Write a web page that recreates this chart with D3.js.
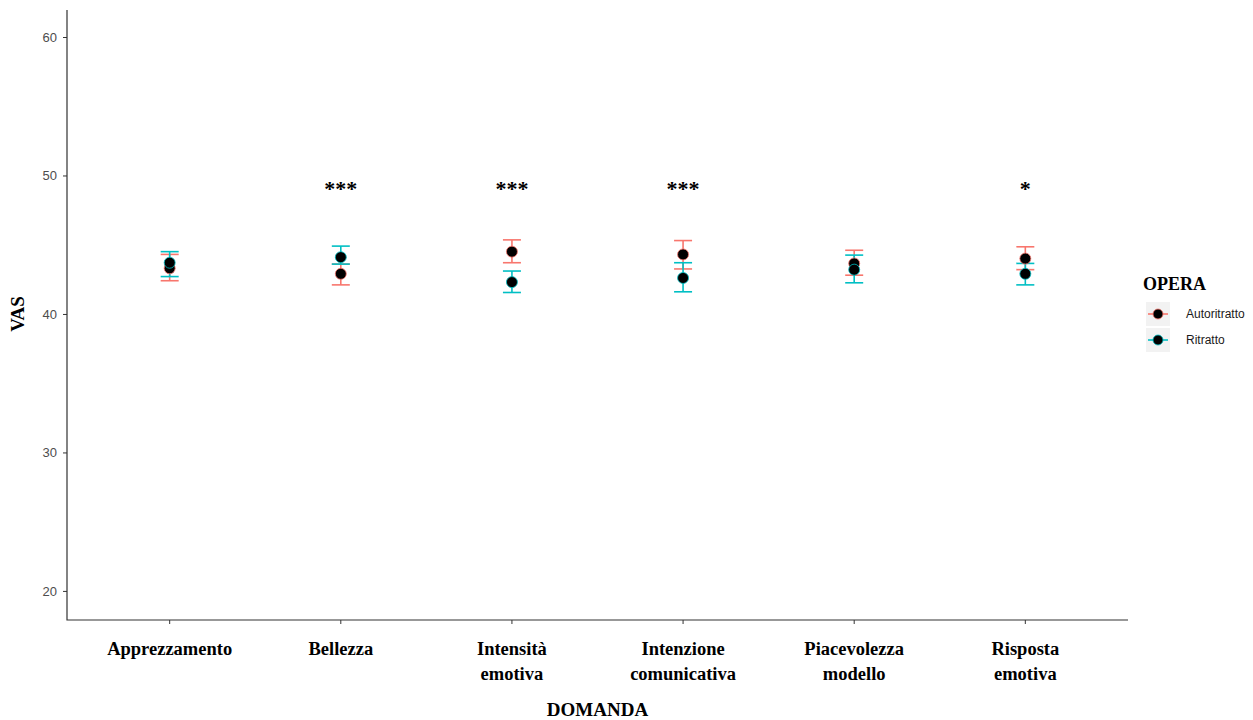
<!DOCTYPE html>
<html>
<head>
  <meta charset="utf-8">
  <script src="https://d3js.org/d3.v7.min.js"></script>
  <style>
    body { margin: 0; background: #fff; }
    .tick text { font-family: "Liberation Sans", Arial, sans-serif; fill: #4d4d4d; }
    .serif { font-family: "Liberation Serif", "Times New Roman", serif; font-weight: bold; }
  </style>
</head>
<body>
<script>
  // data
  var categories = ["Apprezzamento", "Bellezza", "Intensità emotiva", "Intenzione comunicativa", "Piacevolezza modello", "Risposta emotiva"];
  var catLines = [["Apprezzamento"], ["Bellezza"], ["Intensità", "emotiva"], ["Intenzione", "comunicativa"], ["Piacevolezza", "modello"], ["Risposta", "emotiva"]];
  var series = ["Autoritratto", "Ritratto"];
  var autoMean = [43.3, 42.9, 44.5, 44.3, 43.65, 44.0];
  var autoLow  = [42.4, 42.1, 43.7, 43.25, 42.8, 43.2];
  var autoHigh = [44.3, 43.6, 45.35, 45.3, 44.6, 44.85];
  var ritMean  = [43.7, 44.1, 42.3, 42.6, 43.2, 42.9];
  var ritLow   = [42.7, 43.6, 41.55, 41.6, 42.25, 42.1];
  var ritHigh  = [44.5, 44.9, 43.1, 43.7, 44.25, 43.65];
  var stars    = ["", "***", "***", "***", "", "*"];
  var starY    = 49.2;
  var yTicks   = [20, 30, 40, 50, 60];
  var colors   = ["#F8766D", "#00BFC4"];

  (function() {
  var W = 1253, H = 720;
  var pL = 67, pR = 1128, pT = 10, pB = 620;

  var svg = d3.select("body").append("svg").attr("width", W).attr("height", H);

  var y = d3.scaleLinear().domain([17.9, 61.95]).range([pB, pT]);
  // ggplot-like discrete expansion of 0.6
  var xi = d3.scaleLinear().domain([0.4, categories.length + 0.6]).range([pL, pR]);
  var x = function(i) { return xi(i + 1); };

  // axes
  var yAxis = d3.axisLeft(y).tickValues(yTicks).tickSize(4).tickPadding(6);
  var gy = svg.append("g").attr("transform", "translate(" + pL + ",0)").call(yAxis);
  gy.select(".domain").remove();
  gy.selectAll(".tick line").attr("stroke", "#333");
  gy.selectAll(".tick text").attr("font-size", 13);

  var gx = svg.append("g").attr("transform", "translate(0," + pB + ")");
  gx.selectAll("line.tk").data(categories).enter().append("line")
    .attr("x1", function(d, i) { return x(i); }).attr("x2", function(d, i) { return x(i); })
    .attr("y1", 0).attr("y2", 4).attr("stroke", "#333");
  gx.selectAll("text.lab").data(catLines).enter().append("text")
    .attr("class", "serif")
    .attr("text-anchor", "middle")
    .attr("font-size", 18.5)
    .attr("x", function(d, i) { return x(i); })
    .attr("y", 35)
    .each(function(lines) {
      var t = d3.select(this);
      lines.forEach(function(l, k) {
        t.append("tspan").attr("x", t.attr("x")).attr("dy", k === 0 ? 0 : 25).text(l);
      });
    });

  svg.append("path")
    .attr("d", "M" + pL + "," + pT + "V" + pB + "H" + pR)
    .attr("fill", "none").attr("stroke", "#333").attr("stroke-width", 1.2);

  // axis titles
  svg.append("text").attr("class", "serif").attr("font-size", 19)
    .attr("text-anchor", "middle").attr("x", (pL + pR) / 2).attr("y", 716).text("DOMANDA");
  svg.append("text").attr("class", "serif").attr("font-size", 19)
    .attr("text-anchor", "middle").attr("transform", "translate(24," + y(40) + ") rotate(-90)").text("VAS");

  // error bars and points
  var groups = [
    { mean: autoMean, low: autoLow, high: autoHigh, color: colors[0] },
    { mean: ritMean, low: ritLow, high: ritHigh, color: colors[1] }
  ];
  var capW = 9;
  groups.forEach(function(s) {
    var rows = s.mean.map(function(m, i) { return { i: i, m: m, lo: s.low[i], hi: s.high[i] }; });
    var g = svg.append("g").attr("stroke", s.color).attr("stroke-width", 1.6);
    g.selectAll("line.v").data(rows).enter().append("line")
      .attr("x1", function(d) { return x(d.i); }).attr("x2", function(d) { return x(d.i); })
      .attr("y1", function(d) { return y(d.hi); }).attr("y2", function(d) { return y(d.lo); });
    g.selectAll("line.t").data(rows).enter().append("line")
      .attr("x1", function(d) { return x(d.i) - capW; }).attr("x2", function(d) { return x(d.i) + capW; })
      .attr("y1", function(d) { return y(d.hi); }).attr("y2", function(d) { return y(d.hi); });
    g.selectAll("line.b").data(rows).enter().append("line")
      .attr("x1", function(d) { return x(d.i) - capW; }).attr("x2", function(d) { return x(d.i) + capW; })
      .attr("y1", function(d) { return y(d.lo); }).attr("y2", function(d) { return y(d.lo); });
  });
  groups.forEach(function(s) {
    svg.append("g").selectAll("circle").data(s.mean).enter().append("circle")
      .attr("cx", function(d, i) { return x(i); })
      .attr("cy", function(d) { return y(d); })
      .attr("r", 5.5)
      .attr("fill", "#000").attr("stroke", s.color).attr("stroke-width", 0.8);
  });

  // significance stars
  svg.selectAll("text.star").data(stars).enter().append("text")
    .attr("class", "serif").attr("font-size", 22).attr("text-anchor", "middle")
    .attr("x", function(d, i) { return x(i); })
    .attr("y", y(starY) + 9)
    .text(function(d) { return d; });

  // legend
  var lg = svg.append("g").attr("transform", "translate(1142,0)");
  lg.append("text").attr("class", "serif").attr("font-size", 18).attr("x", 1).attr("y", 290).text("OPERA");
  series.forEach(function(name, k) {
    var cy = 314 + k * 26;
    lg.append("rect").attr("x", 4).attr("y", cy - 12).attr("width", 24).attr("height", 24).attr("fill", "#f2f2f2");
    lg.append("line").attr("x1", 6).attr("x2", 26).attr("y1", cy).attr("y2", cy)
      .attr("stroke", colors[k]).attr("stroke-width", 1.6);
    lg.append("circle").attr("cx", 16).attr("cy", cy).attr("r", 5)
      .attr("fill", "#000").attr("stroke", colors[k]).attr("stroke-width", 0.8);
    lg.append("text").attr("x", 44).attr("y", cy + 4)
      .attr("font-family", "Liberation Sans, Arial, sans-serif").attr("font-size", 12)
      .attr("fill", "#1a1a1a").text(name);
  });
  })();
</script>
</body>
</html>
